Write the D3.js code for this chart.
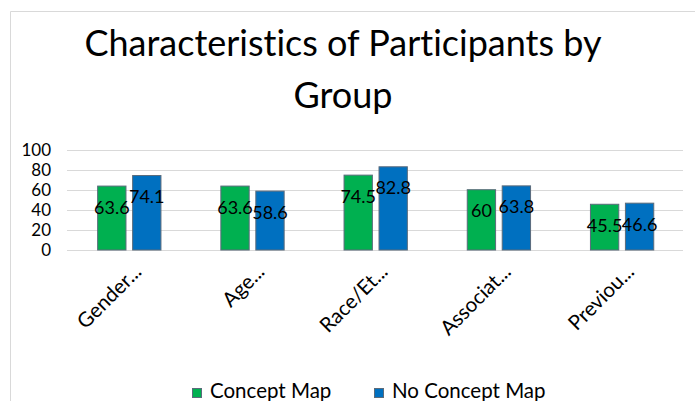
<!DOCTYPE html>
<html><head><meta charset="utf-8">
<script src="https://cdn.jsdelivr.net/npm/d3@7"></script>
<style>body{margin:0;background:#fff;} svg{display:block;} text{font-variant-ligatures:none;font-feature-settings:"liga" 0;}</style>
</head><body>
<svg id="c" width="695" height="401"></svg>
<script>
const categories = ["Gender...", "Age...", "Race/Et...", "Associat...", "Previou..."];
const seriesNames = ["Concept Map", "No Concept Map"];
const conceptMap = [63.6, 63.6, 74.5, 60, 45.5];
const noConceptMap = [74.1, 58.6, 82.8, 63.8, 46.6];
const yTicks = [0, 20, 40, 60, 80, 100];
const titleLines = ["Characteristics of Participants by", "Group"];
const colors = ["#00b050", "#0070c0"];

const svg = d3.select("#c");
const font = "Lato, 'Open Sans', sans-serif";

// chart border
svg.append("path").attr("d", "M10.5,401 V11.5 H695").attr("fill", "none").attr("stroke", "#d9d9d9");

// title
svg.append("g").selectAll("text").data(titleLines).join("text")
  .attr("x", 343).attr("y", (d, i) => 56 + i * 52)
  .attr("text-anchor", "middle").attr("font-family", font).attr("font-size", 36)
  .attr("fill", "#000").text(d => d);

const y = d3.scaleLinear().domain([0, 100]).range([250, 149.5]);
const x0 = d3.scaleBand().domain(categories).range([67, 683]).padding(0);
const groupW = 63.3;
const x1 = d3.scaleBand().domain(seriesNames).range([0, groupW]).paddingInner(0.19).paddingOuter(0);

// gridlines
svg.append("g").selectAll("line").data(yTicks).join("line")
  .attr("x1", 67).attr("x2", 683)
  .attr("y1", d => Math.round(y(d)) + 0.5).attr("y2", d => Math.round(y(d)) + 0.5)
  .attr("stroke", "#d9d9d9").attr("stroke-width", 1);

// y axis labels
const yAxis = d3.axisLeft(y).tickValues(yTicks).tickSize(0).tickPadding(0);
const gy = svg.append("g").attr("transform", "translate(51,0)").call(yAxis);
gy.select(".domain").remove();
gy.selectAll("text").attr("font-family", font).attr("font-size", 17).attr("fill", "#000").attr("dy", "0.35em");

const data = categories.map((c, i) => ({cat: c, vals: [conceptMap[i], noConceptMap[i]]}));

const groups = svg.append("g").selectAll("g").data(data).join("g")
  .attr("transform", d => `translate(${x0(d.cat) + x0.bandwidth() / 2 - groupW / 2 + 0.7},0)`);

groups.selectAll("rect").data(d => d.vals.map((v, j) => ({v, s: seriesNames[j], j}))).join("rect")
  .attr("x", d => x1(d.s)).attr("width", x1.bandwidth())
  .attr("y", d => y(d.v)).attr("height", d => y(0) - y(d.v))
  .attr("fill", d => colors[d.j]).attr("stroke", "#5b6b7b").attr("stroke-width", 1);

groups.selectAll("text.lbl").data(d => d.vals.map((v, j) => ({v, s: seriesNames[j], j}))).join("text")
  .attr("class", "lbl")
  .attr("x", d => x1(d.s) + x1.bandwidth() / 2).attr("y", d => y(d.v) + 27.5)
  .attr("text-anchor", "middle").attr("font-family", font).attr("font-size", 18)
  .attr("fill", "#000").text(d => d.v);

// x axis labels
svg.append("g").selectAll("text").data(categories).join("text")
  .attr("transform", d => `translate(${x0(d) + x0.bandwidth() / 2 + 14},273) rotate(-45)`)
  .attr("text-anchor", "end").attr("font-family", font).attr("font-size", 20.5)
  .attr("fill", "#000").text(d => d);

// legend
const legendX = [192, 374];
const lg = svg.append("g").selectAll("g").data(seriesNames).join("g")
  .attr("transform", (d, i) => `translate(${legendX[i]},0)`);
lg.append("rect").attr("x", 0.5).attr("y", 388.5).attr("width", 9).attr("height", 9)
  .attr("fill", (d, i) => colors[i]).attr("stroke", "#5b6b7b");
lg.append("text").attr("x", 18).attr("y", 398).attr("font-family", font).attr("font-size", 20.5)
  .attr("fill", "#000").text(d => d);
</script>
</body></html>
